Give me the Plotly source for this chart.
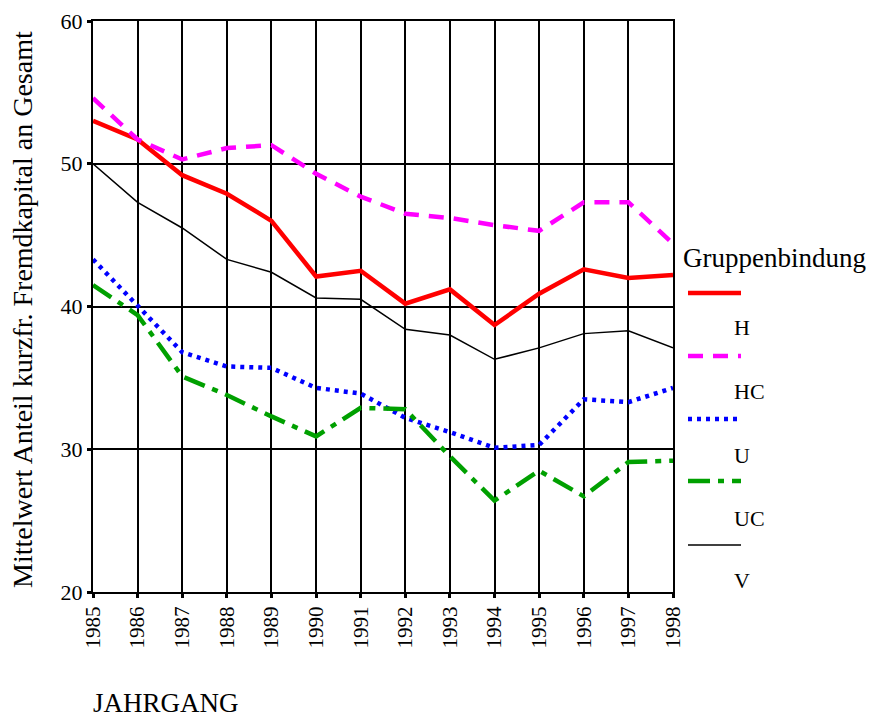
import plotly.graph_objects as go

years = list(range(1985, 1999))
H  = [53.0, 51.7, 49.2, 47.9, 46.0, 42.1, 42.5, 40.2, 41.2, 38.7, 40.9, 42.6, 42.0, 42.2]
HC = [54.6, 51.7, 50.3, 51.1, 51.3, 49.3, 47.7, 46.5, 46.2, 45.7, 45.3, 47.3, 47.3, 44.4]
U  = [43.3, 40.1, 36.8, 35.8, 35.7, 34.3, 33.9, 32.2, 31.2, 30.1, 30.3, 33.5, 33.3, 34.3]
UC = [41.5, 39.4, 35.1, 33.8, 32.3, 30.9, 32.9, 32.8, 29.5, 26.4, 28.5, 26.7, 29.1, 29.2]
V  = [50.0, 47.3, 45.5, 43.3, 42.4, 40.6, 40.5, 38.4, 38.0, 36.3, 37.1, 38.1, 38.3, 37.1]

series_names = ["H", "HC", "U", "UC", "V"]
series_vals = [H, HC, U, UC, V]
colors = ["#ff0000", "#ff00ff", "#0000ff", "#00a000", "#000000"]
widths = [4.5, 4.5, 4.5, 4.5, 1.5]
dashes = ["solid", "15px,10px", "4px,5px", "22px,8px,6px,8px", "solid"]

y_ticks = [20, 30, 40, 50, 60]

SERIF = "Liberation Serif, Times New Roman, serif"

fig = go.Figure()
for name, vals, c, w, d in zip(series_names, series_vals, colors, widths, dashes):
    fig.add_trace(go.Scatter(x=years, y=vals, mode="lines", name=name,
                             line=dict(color=c, width=w, dash=d),
                             showlegend=False))

# page has an 8px body margin; coordinates below are absolute page pixels
L, T, W, HH = 93, 21, 580, 571
def px(x): return (x - L) / W
def py(y): return (T + HH - y) / HH

leg_line_y = [293, 356, 419, 481, 545]
leg_lab_y = [328, 392, 455, 518, 580]
for name, c, w, d, ly, ty in zip(series_names, colors, widths, dashes, leg_line_y, leg_lab_y):
    fig.add_shape(type="line", xref="paper", yref="paper",
                  x0=px(688), x1=px(741), y0=py(ly), y1=py(ly),
                  line=dict(color=c, width=w, dash=d))
    fig.add_annotation(text=name, xref="paper", yref="paper",
                       x=px(732), y=py(ty), xanchor="left", yanchor="middle",
                       showarrow=False, font=dict(family=SERIF, size=22, color="black"))

fig.add_annotation(text="Gruppenbindung", xref="paper", yref="paper",
                   x=px(681), y=py(258), xanchor="left", yanchor="middle",
                   showarrow=False, font=dict(family=SERIF, size=27, color="black"))
fig.add_annotation(text="JAHRGANG", xref="paper", yref="paper",
                   x=px(91), y=py(703), xanchor="left", yanchor="middle",
                   showarrow=False, font=dict(family=SERIF, size=27, color="black"))
fig.add_annotation(text="Mittelwert Anteil kurzfr. Fremdkapital an Gesamt",
                   xref="paper", yref="paper", x=px(22), y=py(310),
                   xanchor="center", yanchor="middle", textangle=-90,
                   showarrow=False, font=dict(family=SERIF, size=28, color="black"))

fig.update_layout(
    width=866, height=709,
    margin=dict(l=85, r=201, t=13, b=125),
    paper_bgcolor="white", plot_bgcolor="white",
    font=dict(family=SERIF, color="black"),
    showlegend=False,
)
fig.update_xaxes(range=[1985, 1998], tickmode="array", tickvals=years,
                 ticktext=[str(y) for y in years], tickangle=-90,
                 tickfont=dict(family=SERIF, size=21, color="black"),
                 showgrid=True, gridcolor="black", gridwidth=2,
                 showline=True, linecolor="black", linewidth=2, mirror=True,
                 ticks="outside", ticklen=4, tickwidth=3, tickcolor="black",
                 zeroline=False, automargin=False)
fig.update_yaxes(range=[20, 60], tickmode="array", tickvals=y_ticks,
                 tickfont=dict(family=SERIF, size=22, color="black"),
                 showgrid=True, gridcolor="black", gridwidth=1.5,
                 showline=True, linecolor="black", linewidth=2, mirror=True,
                 ticks="outside", ticklen=4, tickwidth=3, tickcolor="black",
                 zeroline=False, automargin=False)

fig.write_html("out.html")
